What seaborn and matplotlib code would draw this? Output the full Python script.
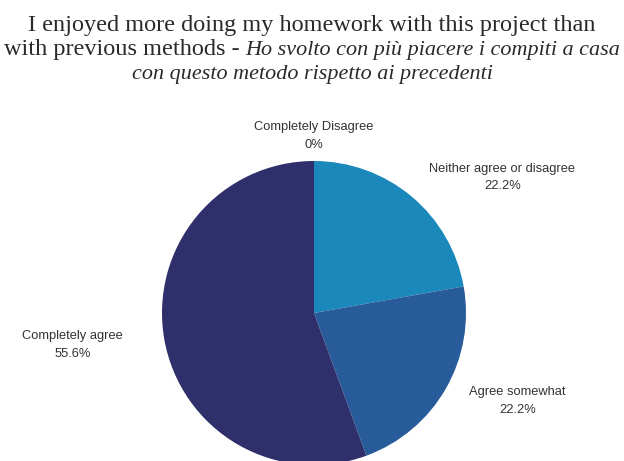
import matplotlib
matplotlib.use("Agg")
import matplotlib.pyplot as plt
import seaborn as sns

sns.set_theme(style="white")
plt.rcParams["font.family"] = ["Liberation Sans", "DejaVu Sans"]

categories = ["Completely Disagree", "Neither agree or disagree", "Agree somewhat", "Completely agree"]
shares = [0.0, 22.2, 22.2, 55.6]
colors = ["#3366cc", "#1a88bb", "#285b99", "#2e2f6b"]
# label anchor points relative to the pie centre (in pie radii)
label_pos = [(0.0, 1.165), (1.24, 0.89), (1.34, -0.58), (-1.59, -0.21)]

W, H, DPI = 6.24, 4.61, 100
fig = plt.figure(figsize=(W, H), dpi=DPI)
ax = fig.add_axes([0, 0, 1, 1])

cx_px, cy_px, r_px = 314, 313, 152

ax.pie(shares, colors=colors, startangle=90, counterclock=False, radius=1.0,
       center=(0, 0), frame=True,
       wedgeprops=dict(linewidth=0, antialiased=True))
ax.set_xlim(-cx_px / r_px, (W * DPI - cx_px) / r_px)
ax.set_ylim(-(H * DPI - cy_px) / r_px, cy_px / r_px)
ax.set_aspect("auto")
ax.axis("off")

for name, val, (lx, ly) in zip(categories, shares, label_pos):
    txt = f"{val:g}%" if val == 0 else f"{val:.1f}%"
    ax.text(lx, ly, f"{name}\n{txt}", ha="center", va="center",
            fontsize=9.3, color="#333333", linespacing=1.6)

# Title: upright English, italic Italian translation
serif = ["Liberation Serif", "DejaVu Serif"]
fs_up = 17.5
fs_it = 15.9
title_color = "#2a2a2a"
line1 = "I enjoyed more doing my homework with this project than"
line2a = "with previous methods - "
line2b = "Ho svolto con più piacere i compiti a casa"
line3 = "con questo metodo rispetto ai precedenti"

def fy(px):
    return 1 - px / (H * DPI)

fig.text(0.5, fy(31), line1, ha="center", va="baseline", fontsize=fs_up,
         family=serif, color=title_color)

renderer = fig.canvas.get_renderer()
ta = fig.text(0, fy(55), line2a, ha="left", va="baseline", fontsize=fs_up,
              family=serif, color=title_color)
tb = fig.text(0, fy(55), line2b, ha="left", va="baseline", fontsize=fs_it,
              family=serif, style="italic", color=title_color)
wa = ta.get_window_extent(renderer).width
wb = tb.get_window_extent(renderer).width
x0 = (W * DPI - (wa + wb)) / 2
ta.set_x(x0 / (W * DPI))
tb.set_x((x0 + wa) / (W * DPI))

fig.text(0.5, fy(79), line3, ha="center", va="baseline", fontsize=fs_it,
         family=serif, style="italic", color=title_color)

fig.savefig("out.png", dpi=DPI, facecolor="white")
